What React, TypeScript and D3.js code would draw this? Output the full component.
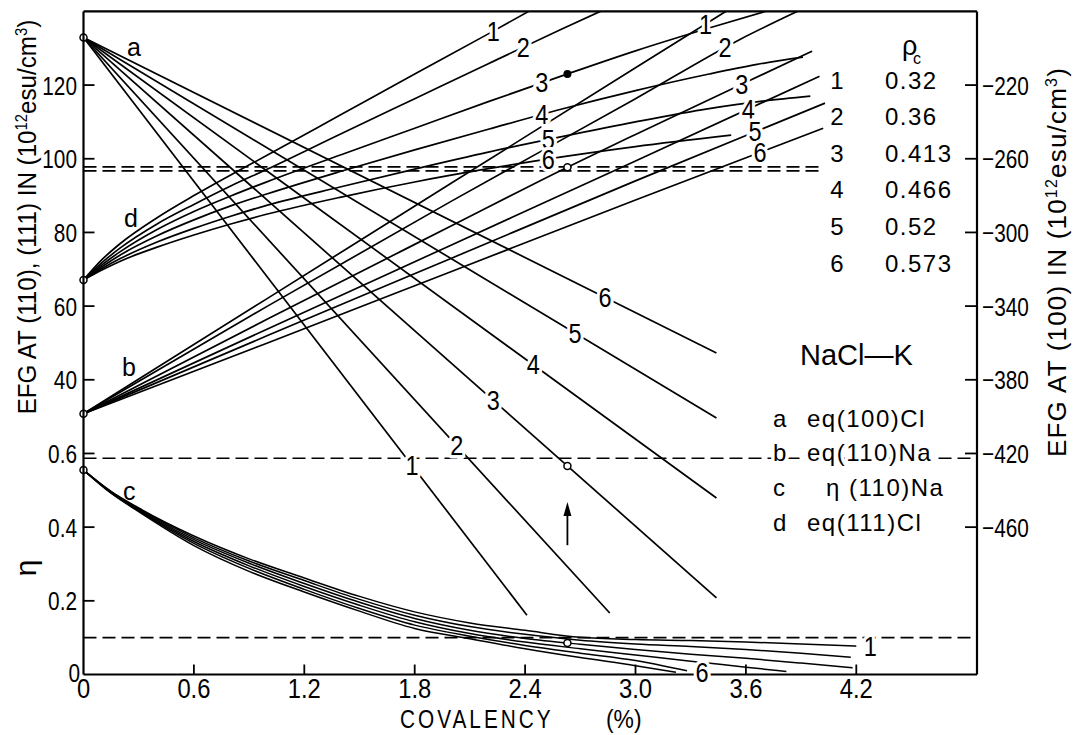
import React from "react";
import * as d3 from "d3";

// ---------- axes ----------
const xTicks = [0, 0.6, 1.2, 1.8, 2.4, 3.0, 3.6, 4.2];
const xTickLabels = ["0", "0.6", "1.2", "1.8", "2.4", "3.0", "3.6", "4.2"];
const efgTicks = [120, 100, 80, 60, 40];
const etaTicks = [0.6, 0.4, 0.2, 0];
const etaTickLabels = ["0.6", "0.4", "0.2", "0"];
const rightTicks = [-220, -260, -300, -340, -380, -420, -460];

// ---------- legend ----------
const rhoIds = ["1", "2", "3", "4", "5", "6"];
const rhoValues = ["0.32", "0.36", "0.413", "0.466", "0.52", "0.573"];
const familyKeys = ["a", "b", "c", "d"];
const familyNames = ["eq(100)Cl", "eq(110)Na", "η (110)Na", "eq(111)Cl"];

// ---------- family a : eq(100)Cl (right axis), straight lines ----------
const aStart = 132.9;
const aEndX = [2.41, 2.86, 3.44, 3.44, 3.44, 3.44];
const aEndY = [-23.9, -23.3, -19.2, 7.9, 29.6, 47.3];
const aLabelX = [1.785, 2.028, 2.227, 2.444, 2.671, 2.834];

// ---------- family b : eq(110)Na ----------
const b1 = [[0, 30.8], [1, 62.1], [2, 93.4], [3, 124.7], [3.5, 140.3]];
const b2 = [[0, 30.8], [1, 60], [2, 88.5], [3, 116.3], [3.56, 132.2], [3.9, 140.5]];
const b3 = [[0, 30.8], [1, 56.5], [2, 81.8], [2.63, 97.7], [3, 106.6], [3.58, 120.3], [3.96, 129.2]];
const b4 = [[0, 30.8], [1, 53.8], [2, 76.6], [3, 99.4], [4.0, 122.4]];
const b5 = [[0, 30.8], [1, 52], [2, 73], [3, 94], [4.03, 115.1]];
const b6 = [[0, 30.8], [1, 50], [2, 69.4], [3, 88.8], [4.02, 108.3]];
const bLabelX = [3.38, 3.486, 3.577, 3.613, 3.649, 3.677];

// ---------- family d : eq(111)Cl ----------
const dX = [0, 0.1, 0.2, 0.4, 0.6, 0.8, 1.0, 1.4, 1.8, 2.2, 2.6, 3.0, 3.4];
const d1Vals = [67.1, 72.6, 77, 84, 90, 95.6, 101, 112, 123, 133.9];
const d1End = [[2.43, 140.3]];
const d2Vals = [67.1, 71.8, 75.8, 82.3, 87.6, 92.6, 97.2, 106.8, 116.3, 125.8, 135.2];
const d2End = [[2.83, 140.5]];
const d3Vals = [67.1, 71.2, 74.8, 80.8, 85.7, 89.9, 93.8, 101.1, 108.3, 115.5, 122.5, 129.3, 135.5];
const d3End = [[3.72, 140.2]];
const d4Vals = [67.1, 70.7, 73.9, 79.1, 83.4, 87.2, 90.5, 96.6, 102.4, 108, 113.5, 118.5, 123];
const d4End = [[3.66, 125.6], [3.91, 127.6]];
const d5Vals = [67.1, 70.2, 72.9, 77.4, 81.1, 84.4, 87.4, 92.4, 97.2, 101.8, 106, 110, 113.6];
const d5End = [[3.7, 115.7], [3.95, 117]];
const d6Vals = [67.1, 69.8, 72.2, 76, 79.3, 82.3, 85, 89.6, 93.7, 97.3, 100.5, 103.3];
const d6End = [[3.52, 106.4]];
const dLabelX = [2.227, 2.39, 2.49, 2.49, 2.526, 2.526];

// ---------- family c : eta(110)Na ----------
const cX = [0, 0.15, 0.3, 0.6, 0.9, 1.2, 1.5, 1.8, 2.1, 2.4, 2.7, 3.0, 3.3, 3.6, 3.9, 4.2];
const c1Vals = [0.555, 0.497, 0.452, 0.376, 0.314, 0.262, 0.212, 0.17, 0.14, 0.12, 0.101, 0.095, 0.092, 0.088, 0.083, 0.077];
const c1End: number[][] = [];
const c2Vals = [0.555, 0.496, 0.45, 0.371, 0.308, 0.255, 0.204, 0.161, 0.13, 0.109, 0.093, 0.083, 0.076, 0.068, 0.058];
const c2End = [[4.17, 0.047]];
const c3Vals = [0.555, 0.495, 0.448, 0.366, 0.302, 0.247, 0.196, 0.152, 0.12, 0.098, 0.082, 0.068, 0.055, 0.044, 0.031];
const c3End = [[4.18, 0.018]];
const c4Vals = [0.555, 0.494, 0.446, 0.361, 0.295, 0.239, 0.188, 0.143, 0.111, 0.088, 0.07, 0.053, 0.036, 0.02];
const c4End = [[3.82, 0.008]];
const c5Vals = [0.555, 0.493, 0.444, 0.356, 0.288, 0.231, 0.179, 0.134, 0.104, 0.079, 0.058, 0.038];
const c5End = [[3.28, 0.01]];
const c6Vals = [0.555, 0.492, 0.442, 0.35, 0.28, 0.224, 0.172, 0.125, 0.097, 0.07, 0.046, 0.024];
const c6End = [[3.22, 0.006]];

// ---------- reference levels / markers ----------
const topDashLevels = [97.8, 96.7];
const topDashEndX = 4.01;
const etaDashLevels = [0.587, 0.1];
const markX = 2.63;
const arrowFrom = -4.9;
const arrowTo = 6.8;

const FS = "'Liberation Sans','DejaVu Sans',sans-serif";

const etaToEfg = (v: number) => v * 100 - 40;
const rightToEfg = (r: number) => (r + 460) / 2;

function build(xs: number[], vals: number[], end: number[][]) {
  return vals.map((v, i) => [xs[i], v]).concat(end);
}

function valueAt(pts: number[][], xv: number) {
  for (let i = 1; i < pts.length; i++) {
    if (xv <= pts[i][0]) {
      const t = (xv - pts[i - 1][0]) / (pts[i][0] - pts[i - 1][0]);
      return pts[i - 1][1] + t * (pts[i][1] - pts[i - 1][1]);
    }
  }
  return pts[pts.length - 1][1];
}

const halo = { paintOrder: "stroke" as const, stroke: "#fff", strokeWidth: 7, strokeLinejoin: "round" as const };

function NT(props: { x: number; y: number; anchor?: string; size?: number; sx?: number; ls?: number; h?: boolean; children: any }) {
  const { x, y, anchor = "start", size = 26, sx = 0.8, ls = 0, h = false, children } = props;
  return (
    <text
      transform={`translate(${x},${y}) scale(${sx},1)`}
      textAnchor={anchor as any}
      fontFamily={FS}
      fontSize={size}
      letterSpacing={ls}
      fill="#000"
      style={h ? halo : undefined}
    >
      {children}
    </text>
  );
}

export default function App() {
  const x = d3.scaleLinear().domain([0, 4.2]).range([83.5, 856.3]);
  const y = d3.scaleLinear().domain([-40, 140]).range([674.5, 11.4]);
  const X0 = 83.5, X1 = 977, Y0 = 11.4, Y1 = 674.5;

  const curve = d3.line<number[]>().x((d) => x(d[0])).y((d) => y(d[1])).curve(d3.curveMonotoneX);

  const aCurves = aEndX.map((ex, i) => [[0, aStart], [ex, aEndY[i]]]);
  const bCurves = [b1, b2, b3, b4, b5, b6];
  const dCurves = [
    build(dX, d1Vals, d1End), build(dX, d2Vals, d2End), build(dX, d3Vals, d3End),
    build(dX, d4Vals, d4End), build(dX, d5Vals, d5End), build(dX, d6Vals, d6End),
  ];
  const cCurvesEta = [
    build(cX, c1Vals, c1End), build(cX, c2Vals, c2End), build(cX, c3Vals, c3End),
    build(cX, c4Vals, c4End), build(cX, c5Vals, c5End), build(cX, c6Vals, c6End),
  ];
  const cCurves = cCurvesEta.map((c) => c.map((p) => [p[0], etaToEfg(p[1])]));

  const lineLabel = (key: string, px: number, py: number, t: string) => (
    <NT key={key} x={px} y={py + 9.5} anchor="middle" size={27} sx={0.87} h>
      {t}
    </NT>
  );

  const c1Last = cCurves[0][cCurves[0].length - 1];
  const c6Last = cCurves[5][cCurves[5].length - 1];

  return (
    <svg width={1075} height={735} style={{ position: "absolute", left: 0, top: 0, display: "block", background: "#fff" }}>
      <defs>
        <clipPath id="plotclip">
          <rect x={X0} y={Y0} width={X1 - X0} height={Y1 - Y0} />
        </clipPath>
      </defs>
      <rect x={0} y={0} width={1075} height={735} fill="#fff" />

      {/* dashed reference lines */}
      <g stroke="#000" strokeWidth={1.6} strokeDasharray="13,6" fill="none">
        {topDashLevels.map((l, i) => (
          <line key={"td" + i} x1={X0} x2={x(topDashEndX)} y1={y(l)} y2={y(l)} />
        ))}
        {etaDashLevels.map((l, i) => (
          <line key={"ed" + i} x1={X0} x2={X1} y1={y(etaToEfg(l))} y2={y(etaToEfg(l))} />
        ))}
      </g>

      {/* curves */}
      <g clipPath="url(#plotclip)" fill="none" stroke="#000" strokeWidth={1.7}>
        {aCurves.map((c, i) => <path key={"a" + i} d={curve(c) || ""} />)}
        {bCurves.map((c, i) => <path key={"b" + i} d={curve(c) || ""} />)}
        {dCurves.map((c, i) => <path key={"d" + i} d={curve(c) || ""} />)}
        {cCurves.map((c, i) => <path key={"c" + i} d={curve(c) || ""} strokeWidth={1.5} />)}
      </g>

      {/* bottom axis + ticks */}
      <line x1={X0} x2={X1} y1={Y1} y2={Y1} stroke="#000" strokeWidth={2.2} />
      {xTicks.slice(1).map((t) => (
        <line key={"xt" + t} x1={x(t)} x2={x(t)} y1={Y1} y2={Y1 - 10} stroke="#000" strokeWidth={1.8} />
      ))}

      {/* line labels */}
      {aCurves.map((c, i) => lineLabel("al" + i, x(aLabelX[i]), y(valueAt(c, aLabelX[i])), rhoIds[i]))}
      {bCurves.map((c, i) => lineLabel("bl" + i, x(bLabelX[i]), y(valueAt(c, bLabelX[i])), rhoIds[i]))}
      {dCurves.map((c, i) => lineLabel("dl" + i, x(dLabelX[i]), y(valueAt(c, dLabelX[i])), rhoIds[i]))}
      {lineLabel("cl1", x(c1Last[0]) + 14, y(c1Last[1]), "1")}
      {lineLabel("cl6", x(c6Last[0]) + 26, y(-40) - 2, "6")}

      {/* markers */}
      <g fill="#fff" stroke="#000" strokeWidth={1.5}>
        <circle cx={x(0)} cy={y(aStart)} r={3.5} />
        <circle cx={x(0)} cy={y(dCurves[0][0][1])} r={3.5} />
        <circle cx={x(0)} cy={y(b1[0][1])} r={3.5} />
        <circle cx={x(0)} cy={y(cCurves[0][0][1])} r={3.5} />
        <circle cx={x(markX)} cy={y(valueAt(bCurves[2], markX))} r={3.5} />
        <circle cx={x(markX)} cy={y(valueAt(aCurves[2], markX))} r={3.5} />
        <circle cx={x(markX)} cy={y(valueAt(cCurves[2], markX))} r={3.5} />
      </g>
      <circle cx={x(markX)} cy={y(valueAt(dCurves[2], markX))} r={4} fill="#000" />
      <line x1={x(markX)} x2={x(markX)} y1={y(arrowFrom)} y2={y(arrowTo) + 8} stroke="#000" strokeWidth={1.8} />
      <path
        d={`M${x(markX)},${y(arrowTo)} L${x(markX) - 4},${y(arrowTo) + 14} L${x(markX) + 4},${y(arrowTo) + 14} Z`}
        fill="#000"
      />

      {/* family letters */}
      <g fontFamily={FS} fontSize={25} fill="#000">
        <text x={127} y={56}>a</text>
        <text x={124} y={227}>d</text>
        <text x={122} y={376}>b</text>
        <text x={123} y={500}>c</text>
      </g>

      {/* rest of frame */}
      <line x1={X0} x2={X0} y1={Y0} y2={Y1} stroke="#000" strokeWidth={2.2} />
      <line x1={X1} x2={X1} y1={Y0} y2={Y1} stroke="#000" strokeWidth={2.2} />
      <line x1={X0} x2={X1} y1={Y0} y2={Y0} stroke="#000" strokeWidth={2.2} />

      {/* left ticks */}
      {efgTicks.map((t) => (
        <g key={"lt" + t}>
          <line x1={X0} x2={X0 + 11} y1={y(t)} y2={y(t)} stroke="#000" strokeWidth={1.8} />
          <NT x={77} y={y(t) + 9.5} anchor="end" size={26} sx={0.8}>{String(t)}</NT>
        </g>
      ))}
      {etaTicks.map((t, i) => (
        <g key={"et" + t}>
          {t > 0 && <line x1={X0} x2={X0 + 11} y1={y(etaToEfg(t))} y2={y(etaToEfg(t))} stroke="#000" strokeWidth={1.8} />}
          <NT x={t > 0 ? 77 : 80} y={y(etaToEfg(t)) + (t > 0 ? 9.5 : 7)} anchor="end" size={26} sx={0.8}>
            {etaTickLabels[i]}
          </NT>
        </g>
      ))}

      {/* right ticks */}
      {rightTicks.map((t) => (
        <g key={"rt" + t}>
          <line x1={X1 - 12} x2={X1} y1={y(rightToEfg(t))} y2={y(rightToEfg(t))} stroke="#000" strokeWidth={1.8} />
          <NT x={982} y={y(rightToEfg(t)) + 9.5} size={26} sx={0.8}>{"\u2212" + Math.abs(t)}</NT>
        </g>
      ))}

      {/* x tick labels */}
      {xTicks.map((t, i) => (
        <NT key={"xl" + t} x={x(t)} y={698} anchor="middle" size={27} sx={0.88}>
          {xTickLabels[i]}
        </NT>
      ))}

      {/* axis titles */}
      <text transform="translate(36,217) rotate(-90) scale(0.93,1)" textAnchor="middle" fontFamily={FS} fontSize={26}>
        EFG AT (110), (111) IN (10<tspan dy={-9} fontSize={16}>12</tspan>
        <tspan dy={9}>esu/cm</tspan>
        <tspan dy={-9} fontSize={16}>3</tspan>
        <tspan dy={9}>)</tspan>
      </text>
      <text transform="translate(36,568) rotate(-90)" textAnchor="middle" fontFamily={FS} fontSize={30}>η</text>
      <text transform="translate(1066,262) rotate(-90)" textAnchor="middle" fontFamily={FS} fontSize={26} letterSpacing={1.2}>
        EFG AT (100) IN (10<tspan dy={-9} fontSize={16}>12</tspan>
        <tspan dy={9}>esu/cm</tspan>
        <tspan dy={-9} fontSize={16}>3</tspan>
        <tspan dy={9}>)</tspan>
      </text>
      <NT x={400} y={728} size={26} sx={0.8} ls={3.75}>COVALENCY</NT>
      <NT x={606} y={728} size={26} sx={0.88}>(%)</NT>

      {/* rho legend */}
      <text x={902} y={55} fontFamily={FS} fontSize={27}>ρ</text>
      <text x={913} y={64} fontFamily={FS} fontSize={16}>c</text>
      {rhoIds.map((id, i) => (
        <g key={"rl" + id} fontFamily={FS} fontSize={24}>
          <text x={837} y={80 + i * 36.6 + 8.5} textAnchor="middle">{id}</text>
          <text x={885} y={80 + i * 36.6 + 8.5} letterSpacing={1.5}>{rhoValues[i]}</text>
        </g>
      ))}

      {/* family legend */}
      <text x={800} y={365} fontFamily={FS} fontSize={29} style={halo}>NaCl—K</text>
      {familyKeys.map((k, i) => (
        <g key={"fl" + k} fontFamily={FS} fontSize={24}>
          <text x={773} y={418 + i * 34.7 + 8.5} style={halo}>{k}</text>
          <text x={i === 2 ? 826 : 807} y={418 + i * 34.7 + 8.5} letterSpacing={1.5} style={halo}>{familyNames[i]}</text>
        </g>
      ))}
    </svg>
  );
}
